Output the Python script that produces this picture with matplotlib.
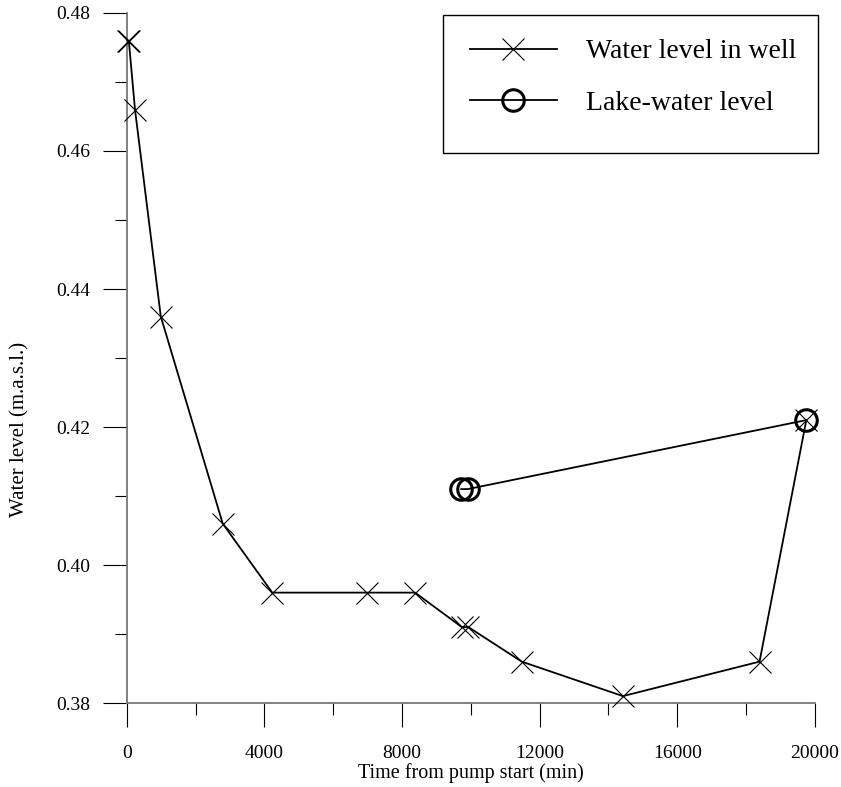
import matplotlib
matplotlib.use("Agg")
import matplotlib.pyplot as plt
from matplotlib.patches import Rectangle
from matplotlib.ticker import MultipleLocator

plt.rcParams['font.family'] = ['Liberation Serif', 'DejaVu Serif']

well_t = [40, 60, 240, 990, 2790, 4230, 6980, 8380, 9740, 9930, 11480, 14420, 18390, 19750]
well_h = [0.476, 0.476, 0.466, 0.436, 0.406, 0.396, 0.396, 0.396, 0.391, 0.391, 0.386, 0.381, 0.386, 0.421]
lake_t = [9720, 9910, 19750]
lake_h = [0.411, 0.411, 0.421]

W, H = 841, 787
fig = plt.figure(figsize=(W / 100, H / 100), dpi=100)
ax = fig.add_axes([0.1507, 0.1067, 0.8183, 0.8768])

ax.plot(well_t, well_h, color='black', lw=1.3, marker='x', ms=16, mew=0.8,
        label='Water level in well', clip_on=False, zorder=3)
ax.plot(lake_t, lake_h, color='black', lw=1.3, marker='o', ms=15.5, mew=2.2,
        mfc='none', label='Lake-water level', clip_on=False, zorder=3)

ax.set_xlim(0, 20000)
ax.set_ylim(0.38, 0.48)
ax.xaxis.set_major_locator(MultipleLocator(4000))
ax.xaxis.set_minor_locator(MultipleLocator(2000))
ax.yaxis.set_major_locator(MultipleLocator(0.02))
ax.yaxis.set_minor_locator(MultipleLocator(0.01))
ax.yaxis.set_major_formatter(plt.FormatStrFormatter('%.2f'))

for s in ['top', 'right']:
    ax.spines[s].set_visible(False)
for s in ['left', 'bottom']:
    ax.spines[s].set_color('#777777')
    ax.spines[s].set_linewidth(1.3)

ax.tick_params(which='major', direction='out', length=17, width=0.8, color='black',
               labelsize=14)
ax.tick_params(which='minor', direction='out', length=8.5, width=0.8, color='black')
ax.tick_params(axis='x', which='major', pad=13)
ax.tick_params(axis='y', which='major', pad=9)

ax.set_xlabel('Time from pump start (min)', fontsize=14.5, labelpad=1)
ax.set_ylabel('Water level (m.a.s.l.)', fontsize=15)
ax.yaxis.set_label_coords(-0.141, 0.396)

# legend box drawn separately so the padding can match
fig.add_artist(Rectangle((443 / W, 1 - 153 / H), 375 / W, 138 / H,
                         transform=fig.transFigure, fill=False,
                         edgecolor='black', lw=1.0))
leg = ax.legend(loc='upper left', bbox_to_anchor=(470 / W, 1 - 39 / H),
                bbox_transform=fig.transFigure, fontsize=20, frameon=False,
                handlelength=3.13, borderpad=0, labelspacing=0.93,
                handletextpad=1.04, borderaxespad=0)

fig.savefig('out.png', dpi=100)
